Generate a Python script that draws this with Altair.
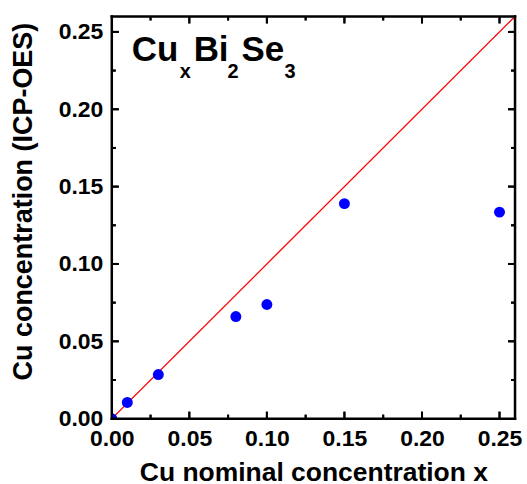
import altair as alt
import pandas as pd

nominal_x = [0.0, 0.01, 0.03, 0.08, 0.10, 0.15, 0.25]
icp_y = [0.0, 0.0105, 0.0285, 0.066, 0.0738, 0.139, 0.1335]
line_x = [0.0, 0.26]
line_y = [0.0, 0.26]
major_ticks = [0.05, 0.10, 0.15, 0.20, 0.25]
minor_ticks = [0.025, 0.075, 0.125, 0.175, 0.225]
tick_values = [0.0, 0.05, 0.10, 0.15, 0.20, 0.25]

W, H = 404, 403
FONT = "Liberation Sans"
DMAX = 0.26

pts = pd.DataFrame({"x": nominal_x, "y": icp_y})
ln = pd.DataFrame({"x": line_x, "y": line_y})
maj = pd.DataFrame({"v": major_ticks})
mnr = pd.DataFrame({"v": minor_ticks})
one = pd.DataFrame({"k": [0]})

xscale = alt.Scale(domain=[0, DMAX], nice=False, zero=False)
yscale = alt.Scale(domain=[0, DMAX], nice=False, zero=False)

xaxis = alt.Axis(values=tick_values, format=".2f", title="Cu nominal concentration x",
                 ticks=False, domain=False, grid=False, labelFontSize=23, labelFont=FONT,
                 labelFontWeight="bold", labelColor="black", labelPadding=27,
                 labelBaseline="alphabetic",
                 titleFont=FONT, titleFontSize=26.5, titleFontWeight="bold", titleColor="black",
                 titleBaseline="alphabetic", titleY=62, labelFlush=False, labelOverlap=False)
yaxis = alt.Axis(values=tick_values, format=".2f", title="Cu concentration (ICP-OES)",
                 ticks=False, domain=False, grid=False, labelFontSize=23, labelFont=FONT,
                 labelFontWeight="bold", labelColor="black", labelPadding=9,
                 titleFont=FONT, titleFontSize=27, titleFontWeight="bold", titleColor="black",
                 titleBaseline="alphabetic", titleAngle=270, titleX=-80, titleY=185,
                 labelFlush=False, labelOverlap=False)

line = alt.Chart(ln).mark_line(color="#ff0000", strokeWidth=1.3, clip=True).encode(
    x=alt.X("x:Q", scale=xscale, axis=xaxis),
    y=alt.Y("y:Q", scale=yscale, axis=yaxis),
)
points = alt.Chart(pts).mark_circle(color="#0000ff", opacity=1, size=120, clip=True).encode(
    x=alt.X("x:Q", scale=xscale),
    y=alt.Y("y:Q", scale=yscale),
)

# inward ticks drawn as tick marks on all four sides
def xticks(df, length):
    b = alt.Chart(df).mark_tick(color="black", thickness=2, size=length, opacity=1).encode(
        x=alt.X("v:Q", scale=xscale), y=alt.value(H - length / 2))
    t = alt.Chart(df).mark_tick(color="black", thickness=2, size=length, opacity=1).encode(
        x=alt.X("v:Q", scale=xscale), y=alt.value(length / 2))
    return [b, t]

def yticks(df, length):
    l = alt.Chart(df).mark_tick(color="black", thickness=2, size=length, opacity=1).encode(
        y=alt.Y("v:Q", scale=yscale), x=alt.value(length / 2))
    r = alt.Chart(df).mark_tick(color="black", thickness=2, size=length, opacity=1).encode(
        y=alt.Y("v:Q", scale=yscale), x=alt.value(W - length / 2))
    return [l, r]

# same ticks as rules (overlapping, identical positions)
def xrules(df, length):
    d = length / H * DMAX
    b = alt.Chart(df).mark_rule(color="black", strokeWidth=2).encode(
        x=alt.X("v:Q", scale=xscale), y=alt.datum(0), y2=alt.datum(d))
    t = alt.Chart(df).mark_rule(color="black", strokeWidth=2).encode(
        x=alt.X("v:Q", scale=xscale), y=alt.datum(DMAX), y2=alt.datum(DMAX - d))
    return [b, t]

def yrules(df, length):
    d = length / W * DMAX
    l = alt.Chart(df).mark_rule(color="black", strokeWidth=2).encode(
        y=alt.Y("v:Q", scale=yscale), x=alt.datum(0), x2=alt.datum(d))
    r = alt.Chart(df).mark_rule(color="black", strokeWidth=2).encode(
        y=alt.Y("v:Q", scale=yscale), x=alt.datum(DMAX), x2=alt.datum(DMAX - d))
    return [l, r]

ticks = (xticks(maj, 7) + xticks(mnr, 4) + yticks(maj, 7) + yticks(mnr, 4)
         + xrules(maj, 7) + xrules(mnr, 4) + yrules(maj, 7) + yrules(mnr, 4))

def frame_rule(**enc):
    return alt.Chart(one).mark_rule(color="black", strokeWidth=2.5, strokeCap="square").encode(**enc)

frame = [
    frame_rule(x=alt.value(0), x2=alt.value(W), y=alt.value(0)),
    frame_rule(x=alt.value(0), x2=alt.value(W), y=alt.value(H)),
    frame_rule(y=alt.value(0), y2=alt.value(H), x=alt.value(0)),
    frame_rule(y=alt.value(0), y2=alt.value(H), x=alt.value(W)),
]

ann_parts = [("Cu", 20, 45, 35), ("x", 68, 62, 20), ("Bi", 82, 45, 35),
             ("2", 116, 62, 20), ("Se", 130, 45, 35), ("3", 173, 62, 20)]
ann = []
for txt, px, py, fs in ann_parts:
    ann.append(alt.Chart(pd.DataFrame({"t": [txt]})).mark_text(
        align="left", baseline="alphabetic", font=FONT, fontWeight="bold",
        fontSize=fs, color="black").encode(
        text="t:N", x=alt.value(px), y=alt.value(py)))

chart = alt.layer(line, points, *ticks, *frame, *ann).properties(
    width=W, height=H,
    padding={"left": 9, "top": 14, "right": 5, "bottom": 5},
)

chart.save("out.html", embed_options={"renderer": "svg", "actions": False})
